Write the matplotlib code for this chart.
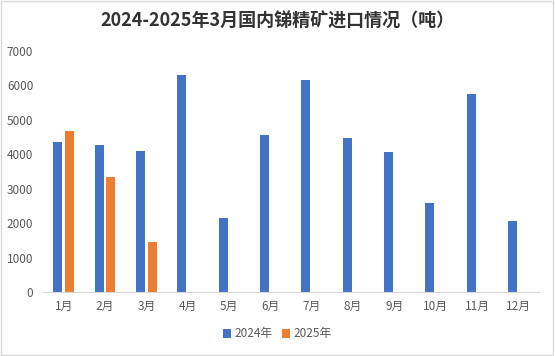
import numpy as np
import matplotlib.pyplot as plt

plt.rcParams['font.family'] = ['Noto Sans CJK SC', 'DejaVu Sans']

months = ['1月', '2月', '3月', '4月', '5月', '6月', '7月', '8月', '9月', '10月', '11月', '12月']
v2024 = [4370, 4280, 4100, 6310, 2160, 4570, 6170, 4480, 4070, 2590, 5760, 2070]
v2025 = [4690, 3350, 1460]

fig = plt.figure(figsize=(5.55, 3.56), dpi=100)
ax = fig.add_axes([43 / 555, 1 - 292 / 356, 496 / 555, 241 / 356])

x = np.arange(len(months))
ax.bar(x - 0.14, v2024, width=0.22, color='#4472C4', label='2024年')
ax.bar(x[:len(v2025)] + 0.14, v2025, width=0.22, color='#ED7D31', label='2025年')

ax.set_xlim(-0.5, 11.5)
ax.set_ylim(0, 7000)
ax.set_yticks(range(0, 7001, 1000))
ax.set_xticks(x)
ax.set_xticklabels(months)
ax.tick_params(axis='both', length=0, labelsize=8.5, colors='#595959')
ax.tick_params(axis='y', pad=7)
ax.tick_params(axis='x', pad=6)
for s in ['top', 'right', 'left']:
    ax.spines[s].set_visible(False)
ax.spines['bottom'].set_color('#D9D9D9')

fig.text(0.5, 1 - 21 / 356, '2024-2025年3月国内锑精矿进口情况（吨）', ha='center', va='center',
         fontsize=13, fontweight='bold', color='#333333')

fig.legend(loc='center', bbox_to_anchor=(0.5, 1 - 334 / 356), ncol=2, frameon=False,
           fontsize=8.5, handlelength=0.7, handleheight=0.7, handletextpad=0.3, columnspacing=0.8,
           labelcolor='#595959')

fig.patches.append(plt.Rectangle((0.001, 0.003), 0.996, 0.995, transform=fig.transFigure,
                                 fill=False, edgecolor='#D9D9D9', linewidth=1))

fig.savefig('out.png', dpi=100)
